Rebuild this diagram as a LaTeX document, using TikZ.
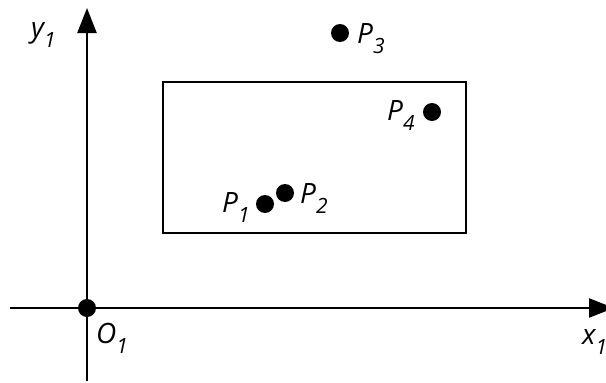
\documentclass[tikz,border=0pt]{standalone}
\usepackage{fontspec}
\setmainfont{Open Sans}
\usetikzlibrary{arrows.meta}
\newcommand{\lbl}[2]{\itshape #1\raisebox{-10pt}{\fontsize{21}{21}\selectfont #2}}
\tikzset{
  axis/.style={line width=2.4pt,-{Triangle[length=25pt,width=19pt]}},
  dot/.style={circle,fill=black,inner sep=0pt,minimum size=18pt},
  lab/.style={anchor=base west,inner sep=0pt,font=\fontsize{28}{28}\selectfont},
  box/.style={draw,line width=2pt}
}
\begin{document}
\begin{tikzpicture}[x=1pt,y=-1pt]
\useasboundingbox (0,0) rectangle (606,383);
\coordinate (ybot) at (87,381);
\coordinate (ytop) at (87,8);
\coordinate (xl) at (10,308);
\coordinate (xr) at (614,308);
\draw[axis] (ybot) -- (ytop);
\draw[axis] (xl) -- (xr);
\node[box,minimum width=303pt,minimum height=151pt,anchor=north west] (rect) at (162,81) {};
\node[dot] (O) at (87,308) {};
\node[dot] (p3) at (340,33) {};
\node[dot] (p4) at (432,112) {};
\node[dot] (p1) at (265,204) {};
\node[dot] (p2) at (285,193) {};
\node[lab] (lO) at (96,343) {\lbl{O}{1}};
\node[lab] (lx) at (582,344) {\lbl{x}{1}};
\node[lab] (ly) at (31,37) {\lbl{y}{1}};
\node[lab] (l3) at (357,43) {\lbl{P}{3}};
\node[lab] (l4) at (387,120) {\lbl{P}{4}};
\node[lab] (l1) at (222,212) {\lbl{P}{1}};
\node[lab] (l2) at (300,203) {\lbl{P}{2}};
\end{tikzpicture}
\end{document}
